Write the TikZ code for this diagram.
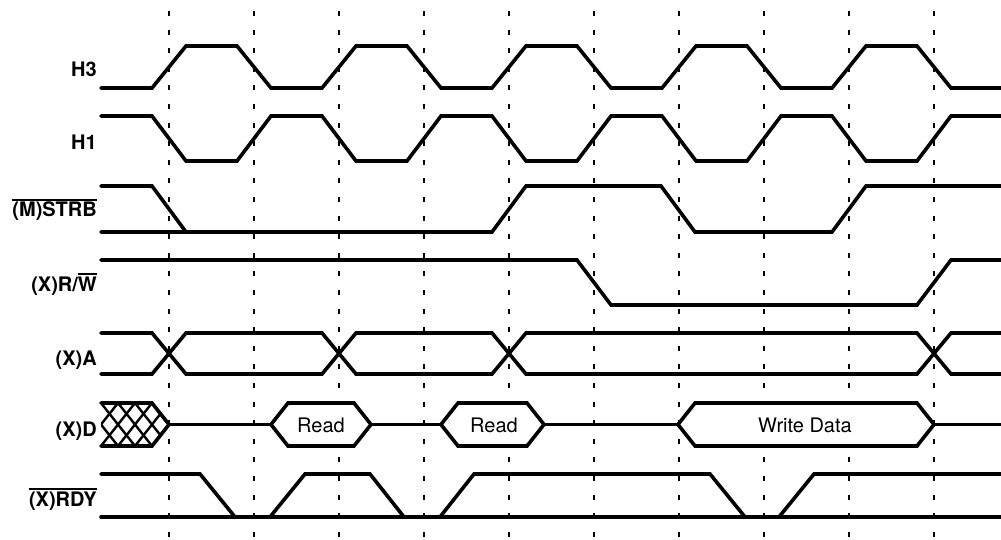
\documentclass[tikz,border=0pt]{standalone}
\usepackage{fontspec}
\setmainfont{TeX Gyre Heros}
\newcommand\ovl[1]{\leavevmode\vbox{\hrule height 1.6pt\kern 1.4pt\hbox{#1}}}
\tikzset{
  sig/.style={line width=3.6pt, line cap=round, line join=miter},
  busbox/.style={sig, fill=white},
  grid/.style={line width=1.9pt, dash pattern=on 5pt off 13.6pt},
  hatch/.style={line width=2.4pt},
  lbl/.style={anchor=base east, inner sep=0pt, font=\fontsize{20}{24}\selectfont\bfseries},
  bustxt/.style={anchor=base, inner sep=0pt, font=\fontsize{20}{24}\selectfont}
}
\begin{document}
\begin{tikzpicture}[x=1pt,y=-1pt]
\useasboundingbox (0,0) rectangle (1001,540);
% dashed reference lines
\foreach \k in {0,...,9} \draw[grid] ({169+85*\k},11) -- ({169+85*\k},540);
% labels
\node[lbl] (lH3) at (97,77) {H3};
\node[lbl] (lH1) at (97,150) {H1};
\node[lbl] (lSTRB) at (97,217) {\ovl{(M)STRB}};
\node[lbl] (lRW) at (97,291) {(X)R/\ovl{W}};
\node[lbl] (lA) at (97,365) {(X)A};
\node[lbl] (lD) at (97,436) {(X)D};
\node[lbl] (lRDY) at (97,506) {\ovl{(X)RDY}};
% H3
\draw[sig] (101,88) foreach \k in {0,...,4} { -- ({152+170*\k},88) -- ({186+170*\k},46) -- ({237+170*\k},46) -- ({271+170*\k},88) } -- (1001,88);
% H1
\draw[sig] (101,116) foreach \k in {0,...,4} { -- ({152+170*\k},116) -- ({186+170*\k},161) -- ({237+170*\k},161) -- ({271+170*\k},116) } -- (1001,116);
% (M)STRB
\draw[sig] (101,186) -- (152,186) -- (186,232);
\draw[sig] (101,232) -- (492,232) -- (526,186) -- (661,186) -- (695,232) -- (832,232) -- (866,186) -- (1001,186);
% (X)R/W
\draw[sig] (101,260) -- (577,260) -- (611,305) -- (917,305) -- (951,260) -- (1001,260);
% (X)A
\draw[sig] (101,333) -- (152,333) -- (186,374) -- (322,374) -- (356,333) -- (492,333) -- (526,374) -- (917,374) -- (951,333) -- (1001,333);
\draw[sig] (101,374) -- (152,374) -- (186,333) -- (322,333) -- (356,374) -- (492,374) -- (526,333) -- (917,333) -- (951,374) -- (1001,374);
% (X)D hatched block
\begin{scope}
  \clip (101,403) -- (152,403) -- (169,424.5) -- (152,446) -- (101,446) -- cycle;
  \fill[white] (101,403) rectangle (169,446);
  \foreach \x in {67,84,...,152} {
    \draw[hatch] (\x,403) -- ({\x+34},446);
    \draw[hatch] (\x,446) -- ({\x+34},403);
  }
\end{scope}
\draw[sig] (101,403) -- (152,403) -- (169,424.5) -- (152,446) -- (101,446);
\draw[sig] (169,424.5) -- (271,424.5);
\draw[busbox] (271,424.5) -- (288,403) -- (354,403) -- (371,424.5) -- (354,446) -- (288,446) -- cycle;
\draw[sig] (371,424.5) -- (441,424.5);
\draw[busbox] (441,424.5) -- (458,403) -- (527,403) -- (544,424.5) -- (527,446) -- (458,446) -- cycle;
\draw[sig] (544,424.5) -- (678,424.5);
\draw[busbox] (678,424.5) -- (695,403) -- (917,403) -- (934,424.5) -- (917,446) -- (695,446) -- cycle;
\draw[sig] (934,424.5) -- (1001,424.5);
\node[bustxt] (read1) at (321,432) {Read};
\node[bustxt] (read2) at (494,432) {Read};
\node[bustxt] (wdata) at (805,432) {Write Data};
% (X)RDY
\draw[sig] (101,517) -- (1001,517);
\draw[sig] (101,474) -- (200,474) -- (235,517);
\draw[sig] (270,517) -- (305,474) -- (370,474) -- (404,517);
\draw[sig] (440,517) -- (474,474) -- (710,474) -- (745,517);
\draw[sig] (779,517) -- (814,474) -- (1001,474);
\end{tikzpicture}
\end{document}
